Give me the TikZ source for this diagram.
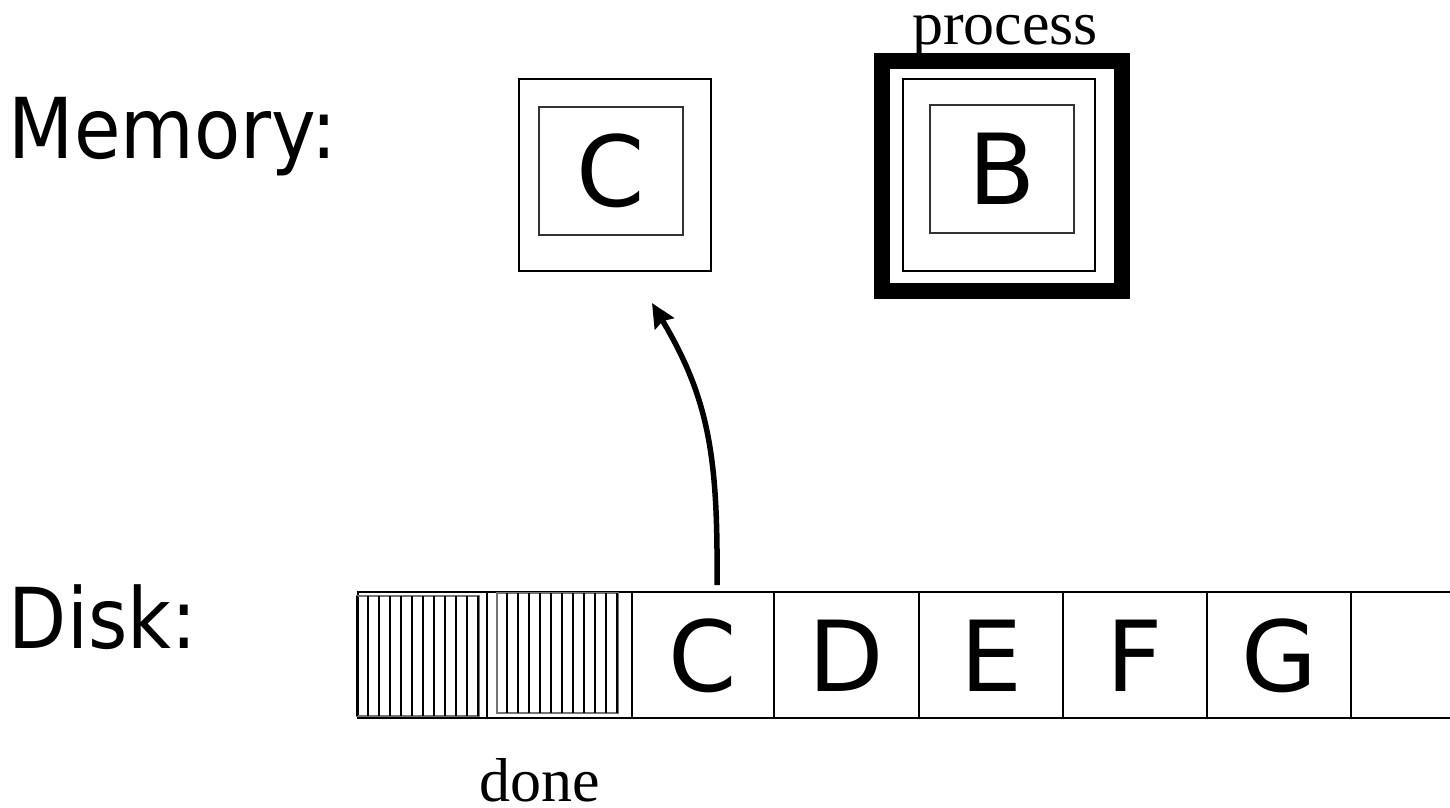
\documentclass[tikz,border=0pt]{standalone}
\usepackage{fontspec}
\setmainfont{Liberation Serif}
\newfontfamily\labelfont[FakeStretch=0.9]{DejaVu Sans}
\newfontfamily\cellfont{DejaVu Sans}
\usetikzlibrary{arrows.meta}

\begin{document}
\begin{tikzpicture}[x=1pt,y=-1pt,
    every node/.style={inner sep=0pt,outer sep=0pt},
    lbl/.style={anchor=base west,font=\labelfont\fontsize{84}{90}\selectfont},
    word/.style={anchor=base,font=\fontsize{62}{68}\selectfont},
    outbox/.style={draw=black,line width=2.6pt,minimum size=192pt},
    inbox/.style={draw=black!80,line width=1.8pt,minimum width=144pt,minimum height=128pt,font=\cellfont\fontsize{98}{100}\selectfont},
    cell/.style={minimum width=142pt,minimum height=126pt,font=\cellfont\fontsize{98}{100}\selectfont},
    strip/.style={line width=2.8pt},
    hatch/.style={draw=black!55,line width=1.8pt},
    bar/.style={line width=2.6pt},
    fetch/.style={line width=5.5pt,-{Stealth[length=24pt,width=22pt,inset=3pt]}}]
    \useasboundingbox (0,0) rectangle (1450,807);

    % labels
    \node[lbl] (mem) at (9,158) {Memory:};
    \node[lbl] (disk) at (9,648) {Disk:};

    % memory
    \node[outbox] (mC) at (615,175) {};
    \node[inbox] (mCin) at (611,171) {C};
    \node[draw=black,line width=16pt,minimum width=240pt,minimum height=230pt] (mBt) at (1002,176) {};
    \node[outbox] (mB) at (999,175) {};
    \node[inbox] (mBin) at (1002,169) {B};
    \node[word] (proc) at (1005,44) {process};

    % disk
    \draw[strip] (1450,592) -| (358,718) -- (1450,718);
    \foreach \x in {487,632,774,919,1063,1207,1351}
        \draw[strip] (\x,592) -- (\x,718);
    \draw[hatch] (357,596) rectangle (479,716);
    \foreach \i in {0,...,11}
        \draw[bar] ({357+11*\i},596) -- ({357+11*\i},716);
    \draw[hatch] (497,593) rectangle (618,713);
    \foreach \i in {0,...,10}
        \draw[bar] ({507+11*\i},593) -- ({507+11*\i},713);
    \foreach \l/\x in {C/703,D/846,E/991,F/1135,G/1279}
        \node[cell] (d\l) at (\x,656) {\l};
    \node[word] (done) at (540,801) {done};

    % read C
    \coordinate (src) at ([xshift=14pt,yshift=8pt]dC.north);
    \coordinate (dst) at ([xshift=37pt,yshift=-32pt]mC.south);
    \draw[fetch] (src) .. controls +(1,-125) and +(58,97) .. (dst);
\end{tikzpicture}
\end{document}
